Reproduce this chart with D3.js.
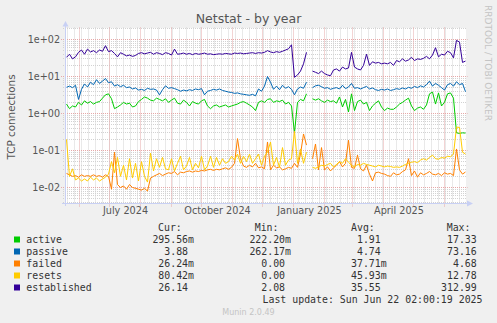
<!DOCTYPE html>
<html>
<head>
<meta charset="utf-8">
<script src="https://cdn.jsdelivr.net/npm/d3@7"></script>
<style>
  html, body { margin: 0; padding: 0; background: #F0F0F0; }
  svg { display: block; }
</style>
</head>
<body>
<svg id="chart" width="497" height="323"></svg>
<script>
// ---- data: one sample every third day, starting 2024-05-19 (null = no data) ----
const sampleStart = "2024-05-19";
const sampleStepDays = 3;

const seriesNames = ["active", "passive", "failed", "resets", "established"];
const seriesColors = ["#00CC00", "#0066B3", "#FF8000", "#FFCC00", "#330099"];

const active = [
  1.8, 1.35, 1.6, 1.5, 2.0, 1.7, 2.2, 1.9, 2.1, 1.8,
  2.0, 2.1, 2.6, 3.2, 3.4, 2.5, 1.35, 1.5, 1.7, 2.0,
  1.8, 1.9, 1.5, 1.6, 2.1, 2.4, 2.8, 2.6, 2.3, 2.2,
  2.6, 2.4, 2.2, 2.5, 2.0, 2.3, 2.6, 1.9, 1.8, 2.3,
  2.0, 1.6, 2.1, 1.9, 1.8, 2.2, 2.4, 1.6, 1.35, 1.6,
  1.7, 1.5, 1.6, 1.7, 1.5, 1.6, 1.7, 1.8, 2.0, 2.1,
  1.9, 1.7, 1.5, 1.2, 2.0, 2.2, 2.0, 2.4, 2.5, 2.0,
  2.2, 2.1, 2.3, 1.8, 2.0, 1.6, 0.3, 2.0, 2.4, 2.2,
  3.4, null, 2.5, 2.3, 2.5, 2.2, 2.0, 2.3, 2.1, 2.2,
  1.9, 2.8, 1.5, 2.4, 1.1, 3.4, 1.2, 2.1, 2.3, 1.8,
  2.0, 1.2, 1.6, 1.9, 2.2, 1.5, 1.2, 1.4, 1.3, 1.3,
  1.5, 1.8, 2.0, 2.3, 2.6, 1.6, 1.2, 1.4, 1.5, 1.3,
  1.7, 3.4, 3.8, 1.8, 3.6, 1.6, 2.0, 3.4, 3.6, 2.6,
  0.3, 0.29, 0.3, 0.2956
];

const passive = [
  5.1, 5.5, 5.0, 5.8, 2.4, 4.5, 6.3, 5.2, 7.0, 6.0,
  8.2, 6.5, 7.5, 8.8, 6.8, 7.2, 5.5, 6.0, 5.3, 5.8,
  5.0, 5.2, 4.6, 4.9, 4.3, 4.5, 4.2, 4.8, 4.5, 4.6,
  4.3, 3.2, 4.4, 5.6, 4.8, 5.0, 4.7, 4.4, 4.0, 4.3,
  4.1, 4.4, 4.2, 4.6, 4.4, 4.7, 3.2, 4.0, 4.2, 4.5,
  4.3, 4.6, 4.2, 4.0, 3.8, 3.7, 3.5, 3.6, 3.4, 3.3,
  3.2, 3.1, 3.3, 3.0, 4.6, 4.0, 5.5, 10, 7.0, 4.5,
  5.5, 4.4, 5.8, 4.8, 5.3, 4.5, 3.2, 4.6, 5.2, 4.8,
  7.0, null, 5.0, 5.6, 5.8, 5.3, 4.8, 5.0, 4.5, 4.8,
  5.0, 4.6, 5.8, 4.7, 5.2, 6.5, 4.8, 5.0, 4.6, 5.0,
  5.4, 4.6, 4.9, 4.4, 4.2, 4.5, 4.3, 4.6, 4.2, 4.4,
  4.7, 4.5, 4.9, 4.6, 5.1, 4.8, 5.4, 5.0, 5.6, 5.2,
  6.0, 7.5, 5.5, 6.5, 5.8, 5.0, 4.3, 6.0, 6.5, 5.5,
  7.2, 6.0, 6.5, 3.88
];

const failed = [
  0.024, 0.022, 0.020, 0.021, 0.019, 0.022, 0.020, 0.021, 0.020, 0.022,
  0.020, 0.021, 0.019, 0.022, 0.020, 0.009, 0.09, 0.012, 0.010, 0.011,
  0.009, 0.012, 0.010, 0.0095, 0.009, 0.0085, 0.0095, 0.008, 0.018, 0.020,
  0.022, 0.024, 0.021, 0.023, 0.025, 0.024, 0.027, 0.022, 0.026, 0.025,
  0.027, 0.028, 0.026, 0.028, 0.027, 0.029, 0.028, 0.030, 0.031, 0.029,
  0.031, 0.030, 0.032, 0.034, 0.031, 0.035, 0.045, 0.21, 0.06, 0.038,
  0.035, 0.040, 0.036, 0.045, 0.034, 0.036, 0.032, 0.17, 0.030, 0.040,
  0.034, 0.036, 0.030, 0.032, 0.035, 0.033, 0.045, 0.035, 0.08, 0.28,
  0.14, null, 0.06, 0.15, 0.030, 0.12, 0.030, 0.036, 0.028, 0.034,
  0.040, 0.050, 0.036, 0.045, 0.19, 0.035, 0.033, 0.075, 0.032, 0.028,
  0.040, 0.023, 0.015, 0.025, 0.026, 0.024, 0.023, 0.021, 0.020, 0.025,
  0.022, 0.023, 0.027, 0.030, 0.06, 0.021, 0.028, 0.019, 0.025, 0.022,
  0.024, 0.027, 0.023, 0.022, 0.024, 0.021, 0.025, 0.023, 0.024, 0.021,
  0.11, 0.030, 0.023, 0.02624
];

const resets = [
  0.2, 0.020, 0.032, 0.016, 0.018, 0.015, 0.017, 0.015, 0.019, 0.016,
  0.018, 0.015, 0.017, 0.019, 0.023, 0.05, 0.025, 0.065, 0.020, 0.04,
  0.016, 0.06, 0.018, 0.045, 0.015, 0.05, 0.020, 0.014, 0.085, 0.028,
  0.06, 0.035, 0.065, 0.032, 0.030, 0.06, 0.028, 0.045, 0.07, 0.030,
  0.038, 0.065, 0.030, 0.045, 0.034, 0.07, 0.030, 0.038, 0.07, 0.035,
  0.065, 0.040, 0.06, 0.045, 0.05, 0.07, 0.055, 0.08, 0.045, 0.07,
  0.050, 0.08, 0.045, 0.06, 0.08, 0.040, 0.07, 0.09, 0.17, 0.040,
  0.065, 0.035, 0.12, 0.040, 0.055, 0.06, 0.33, 0.045, 0.11, 0.045,
  0.09, null, 0.035, 0.033, 0.036, 0.040, 0.038, 0.042, 0.045, 0.036,
  0.042, 0.050, 0.045, 0.060, 0.048, 0.040, 0.036, 0.042, 0.040, 0.045,
  0.042, 0.040, 0.038, 0.036, 0.040, 0.038, 0.036, 0.038, 0.037, 0.035,
  0.036, 0.035, 0.038, 0.042, 0.045, 0.048, 0.050, 0.047, 0.055, 0.06,
  0.055, 0.065, 0.075, 0.06, 0.058, 0.065, 0.062, 0.07, 0.068, 0.08,
  0.43, 0.42, 0.09, 0.08042
];

const established = [
  33, 40, 30, 34, 45, 52, 40, 55, 46, 50,
  44, 52, 48, 68, 47, 50, 42, 34, 44, 40,
  36, 38, 35, 37, 42, 44, 41, 43, 45, 40,
  44, 42, 39, 44, 42, 38, 55, 40, 41, 43,
  40, 42, 39, 42, 40, 41, 43, 40, 41, 39,
  40, 41, 40, 42, 41, 40, 43, 42, 43, 41,
  42, 43, 44, 42, 44, 43, 45, 50, 46, 44,
  47, 45, 48, 52, 56, 72, 9.5, 11, 14, 22,
  45, null, 14, 13, 12, 14, 12, 11, 10.5, 15,
  16, 14, 18, 16, 17, 45, 18, 16, 15, 20,
  40, 20, 25, 23, 24, 22, 23, 22, 24, 20,
  27, 25, 30, 26, 28, 33, 27, 30, 29, 31,
  35, 30, 38, 60, 34, 40, 38, 48, 44, 32,
  95, 85, 24, 26.14
];

// legend statistics: cur / min / avg / max per series
const curValues = [0.29556, 3.88, 0.02624, 0.08042, 26.14];
const minValues = [0.22220, 0.26217, 0, 0, 2.08];
const avgValues = [1.91, 4.74, 0.03771, 0.04593, 35.55];
const maxValues = [17.33, 73.16, 4.68, 12.78, 312.99];

const yTickValues = [0.01, 0.1, 1, 10, 100];
const yTickLabels = ["1e-02", "1e-01", "1e+00", "1e+01", "1e+02"];
const monthLabels = ["July 2024", "October 2024", "January 2025", "April 2025"];
const monthLabelDates = ["2024-07-01", "2024-10-01", "2025-01-01", "2025-04-01"];

const titleText = "Netstat - by year";
const yAxisTitle = "TCP connections";
const lastUpdate = "Last update: Sun Jun 22 02:00:19 2025";
const footer = "Munin 2.0.49";
const sideText = "RRDTOOL / TOBI OETIKER";

// ---- layout ----
const W = 497, H = 323;
const plot = { left: 65.5, right: 465.5, top: 27.5, bottom: 203.5 };
const svg = d3.select("#chart");
const parse = d3.utcParse("%Y-%m-%d");

const x = d3.scaleUtc()
  .domain([parse("2024-05-18"), parse("2025-06-22")])
  .range([plot.left, plot.right]);
const y = d3.scaleLog()
  .domain([Math.pow(10, -2 - 16 / 37), Math.pow(10, 2 + 12 / 37)])
  .range([plot.bottom, plot.top]);
const crisp = v => Math.round(v - 0.5) + 0.5;

svg.append("rect").attr("width", W).attr("height", H).attr("fill", "#F0F0F0");
svg.append("rect")
  .attr("x", 66).attr("y", 28).attr("width", 400).attr("height", 175)
  .attr("fill", "#FFFFFF");

// ---- grid ----
const grid = svg.append("g");
const [yLo, yHi] = y.domain();
const minorY = [];
for (let e = -3; e <= 2; e++) {
  for (let k = 2; k <= 9; k++) {
    const v = k * Math.pow(10, e);
    if (v > yLo && v < yHi) minorY.push(v);
  }
}
const firstDay = x.domain()[0], lastDay = x.domain()[1];
const weeks = d3.utcMonday.range(d3.utcDay.offset(firstDay, 1), lastDay);
const months = d3.utcMonth.range(d3.utcDay.offset(firstDay, 1), lastDay);

grid.selectAll(".vminor").data(weeks).join("line")
  .attr("x1", d => crisp(x(d))).attr("x2", d => crisp(x(d)))
  .attr("y1", plot.top).attr("y2", plot.bottom)
  .attr("stroke", "#D2D2D2").attr("stroke-dasharray", "1,1");
grid.selectAll(".hminor").data(minorY).join("line")
  .attr("x1", 63).attr("x2", plot.right + 1)
  .attr("y1", d => crisp(y(d))).attr("y2", d => crisp(y(d)))
  .attr("stroke", "#D2D2D2").attr("stroke-dasharray", "1,1");
grid.selectAll(".vmajor").data(months).join("line")
  .attr("x1", d => crisp(x(d))).attr("x2", d => crisp(x(d)))
  .attr("y1", plot.top).attr("y2", plot.bottom + 3)
  .attr("stroke", "#E6A8A8").attr("stroke-dasharray", "1,1");
grid.selectAll(".hmajor").data(yTickValues).join("line")
  .attr("x1", 61).attr("x2", plot.right + 2)
  .attr("y1", d => crisp(y(d))).attr("y2", d => crisp(y(d)))
  .attr("stroke", "#E6A8A8").attr("stroke-dasharray", "1,1");

// ---- y tick labels ----
const yAxis = d3.axisLeft(y).tickValues(yTickValues)
  .tickFormat((d, i) => yTickLabels[i]).tickSize(0).tickPadding(0);
const yAxisG = svg.append("g").attr("transform", "translate(60,0)").call(yAxis);
yAxisG.select(".domain").remove();
yAxisG.selectAll("text")
  .attr("font-family", "DejaVu Sans").attr("font-size", "9.6px")
  .attr("fill", "#555555").attr("x", 0).attr("dy", "0.35em");

// ---- month labels: centred in their month ----
const xAxis = d3.axisBottom(x)
  .tickValues(monthLabelDates.map(s => {
    const m0 = parse(s), m1 = d3.utcMonth.offset(m0, 1);
    return new Date((+m0 + +m1) / 2);
  }))
  .tickFormat((d, i) => monthLabels[i]).tickSize(0).tickPadding(0);
const xAxisG = svg.append("g").attr("transform", "translate(0,207)").call(xAxis);
xAxisG.select(".domain").remove();
xAxisG.selectAll("text")
  .attr("font-family", "DejaVu Sans").attr("font-size", "9.7px")
  .attr("fill", "#555555").attr("y", 0).attr("dy", "0.75em");

// ---- series ----
const dates = d3.range(active.length)
  .map(i => d3.utcDay.offset(parse(sampleStart), i * sampleStepDays));
const seriesValues = [active, passive, failed, resets, established];
const line = d3.line()
  .defined(d => d.v !== null)
  .x(d => x(d.t)).y(d => y(d.v));
const lines = svg.append("g");
seriesValues.forEach((vals, s) => {
  lines.append("path")
    .datum(vals.map((v, i) => ({ t: dates[i], v })))
    .attr("d", line)
    .attr("fill", "none")
    .attr("stroke", seriesColors[s])
    .attr("stroke-width", 1)
    .attr("stroke-linejoin", "round");
});

// ---- axes with arrows ----
const axisColor = "#C8D0F4";
svg.append("line").attr("x1", 62).attr("x2", 467).attr("y1", plot.bottom).attr("y2", plot.bottom)
  .attr("stroke", axisColor);
svg.append("line").attr("x1", plot.left).attr("x2", plot.left).attr("y1", 206).attr("y2", 25)
  .attr("stroke", axisColor);
svg.append("path").attr("d", `M467,200.5 L473,203.5 L467,206.5 Z`).attr("fill", axisColor);
svg.append("path").attr("d", `M62.5,26.5 L65.5,21 L68.5,26.5 Z`).attr("fill", axisColor);

// ---- titles ----
svg.append("text").attr("x", 248.5).attr("y", 22.5).attr("text-anchor", "middle")
  .attr("font-family", "DejaVu Sans").attr("font-size", "12.5px").attr("fill", "#555555")
  .text(titleText);
svg.append("text").attr("transform", "translate(15,117) rotate(-90)")
  .attr("text-anchor", "middle")
  .attr("font-family", "DejaVu Sans").attr("font-size", "10.4px").attr("fill", "#555555")
  .text(yAxisTitle);
svg.append("text").attr("transform", "translate(485,5) rotate(90)")
  .attr("font-family", "DejaVu Sans").attr("font-size", "9px").attr("fill", "#C4C4C4")
  .text(sideText);

// ---- legend ----
const mono = "DejaVu Sans Mono";
const monoSize = "9.9px";
const charW = 5.96;
const legendColor = "#333333";
const fmt = v => {
  if (v !== 0 && Math.abs(v) < 1) return (v * 1000).toFixed(2) + "m";
  return v.toFixed(2);
};
const colRight = [194, 291, 386.7, 482.7];
const headers = ["Cur:", "Min:", "Avg:", "Max:"];
const headerX = [158, 254.7, 351, 446.7];
const legend = svg.append("g")
  .attr("font-family", mono).attr("font-size", monoSize).attr("fill", legendColor);
headers.forEach((h, i) => {
  legend.append("text").attr("x", headerX[i]).attr("y", 231).text(h);
});
const stats = [curValues, minValues, avgValues, maxValues];
seriesNames.forEach((name, s) => {
  const rowY = 243 + s * 12;
  legend.append("rect").attr("x", 14).attr("y", rowY - 6.5).attr("width", 6).attr("height", 6)
    .attr("fill", seriesColors[s]);
  legend.append("text").attr("x", 26.3).attr("y", rowY).text(name);
  stats.forEach((col, c) => {
    const str = fmt(col[s]);
    const shift = str.endsWith("m") ? 0 : charW;
    legend.append("text").attr("x", colRight[c] - shift).attr("y", rowY)
      .attr("text-anchor", "end").text(str);
  });
});
legend.append("text").attr("x", 482.5).attr("y", 303).attr("text-anchor", "end").text(lastUpdate);

svg.append("text").attr("x", 248.5).attr("y", 315).attr("text-anchor", "middle")
  .attr("font-family", "DejaVu Sans").attr("font-size", "8px").attr("fill", "#C4C4C4")
  .text(footer);
</script>
</body>
</html>
